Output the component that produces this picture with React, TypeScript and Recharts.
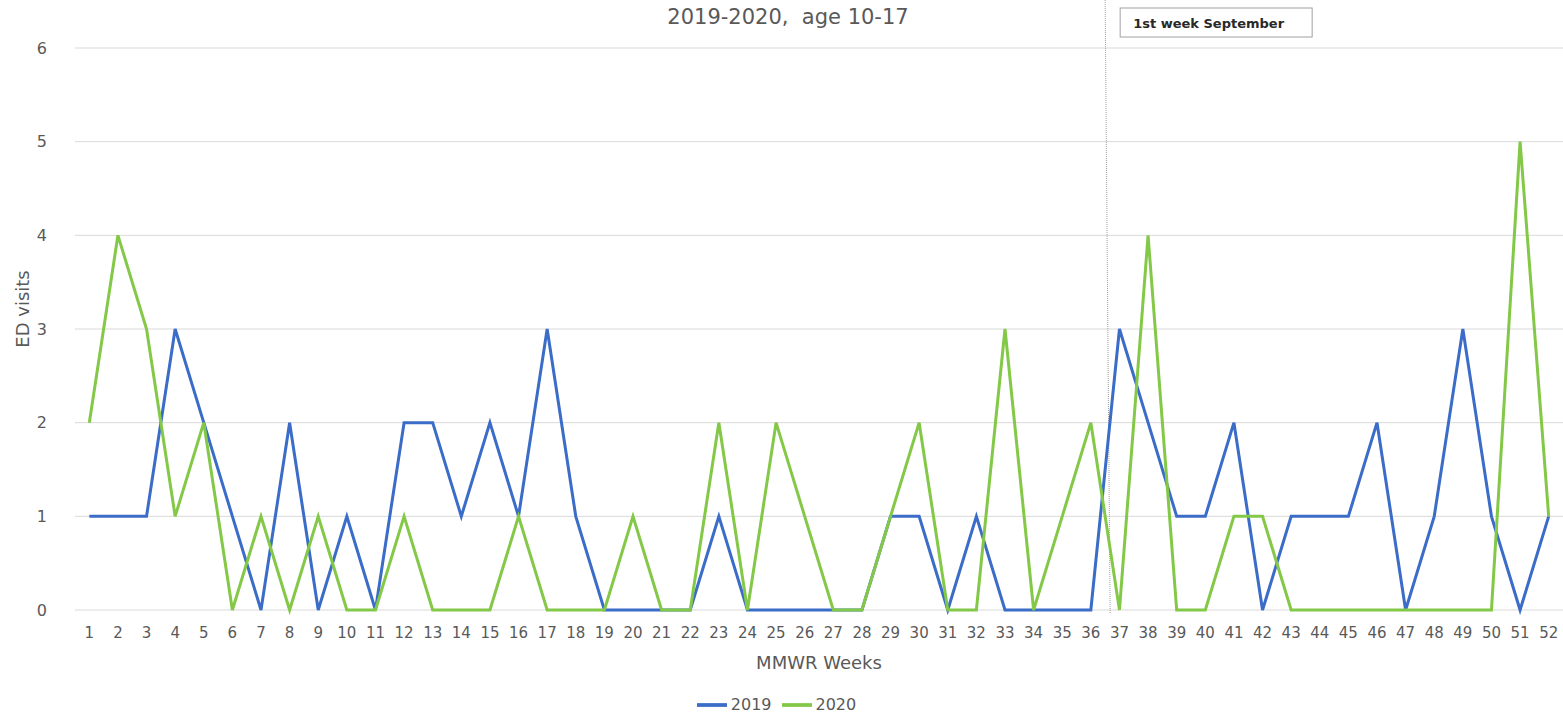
import { CartesianGrid, Legend, Line, LineChart, ReferenceLine, XAxis, YAxis } from 'recharts';

const weeks = Array.from({ length: 52 }, (_, i) => i + 1);

const visits2019 = [
  1, 1, 1, 3, 2, 1, 0, 2, 0, 1, 0, 2, 2, 1, 2, 1, 3, 1, 0, 0, 0, 0, 1, 0, 0, 0,
  0, 0, 1, 1, 0, 1, 0, 0, 0, 0, 3, 2, 1, 1, 2, 0, 1, 1, 1, 2, 0, 1, 3, 1, 0, 1,
];

const visits2020 = [
  2, 4, 3, 1, 2, 0, 1, 0, 1, 0, 0, 1, 0, 0, 0, 1, 0, 0, 0, 1, 0, 0, 2, 0, 2, 1,
  0, 0, 1, 2, 0, 0, 3, 0, 1, 2, 0, 4, 0, 0, 1, 1, 0, 0, 0, 0, 0, 0, 0, 0, 5, 1,
];

const yTicks = [0, 1, 2, 3, 4, 5, 6];
const septemberMarker = 36.5;
const septemberText = '1st week September';

const data = weeks.map((week, i) => ({ week, y2019: visits2019[i], y2020: visits2020[i] }));

const FONT = '"DejaVu Sans", Verdana, sans-serif';
const GREY_TEXT = 'rgb(89 89 89)';

// dotted marker line that runs up past the plot top, with its boxed note
function MarkerShape(props: any) {
  const { x1, y1, x2, y2 } = props;
  const top = Math.min(y1, y2);
  const bottom = Math.max(y1, y2);
  const x = Math.min(x1, x2);
  return (
    <g>
      <line x1={x} y1={top - 48} x2={x + 5} y2={bottom + 4} stroke="rgb(160 160 160)" strokeWidth={1} strokeDasharray="1 1" />
      <rect x={x + 15} y={top - 40} width={192} height={29} fill="#fff" stroke="rgb(160 160 160)" strokeWidth={1} />
      <text x={x + 28} y={top - 20} fontFamily={FONT} fontSize={13} fontWeight={600} fill="rgb(40 40 40)">
        {septemberText}
      </text>
    </g>
  );
}

function YLabel(props: any) {
  const { viewBox } = props;
  const cx = viewBox.x + 22;
  const cy = viewBox.y + viewBox.height / 2 - 20;
  return (
    <text
      x={cx}
      y={cy}
      transform={`rotate(-90 ${cx} ${cy})`}
      textAnchor="middle"
      dominantBaseline="central"
      fontSize={18}
      fontFamily={FONT}
      fill={GREY_TEXT}
    >
      ED visits
    </text>
  );
}

export default function App() {
  return (
    <div style={{ position: 'absolute', left: 0, top: 0, width: 1563, height: 716, background: '#fff', fontFamily: FONT }}>
      <div
        style={{
          position: 'absolute',
          left: 0,
          top: 5,
          width: 1576,
          textAlign: 'center',
          fontSize: 21,
          color: GREY_TEXT,
          whiteSpace: 'pre',
        }}
      >
        2019-2020,  age 10-17
      </div>
      <LineChart width={1563} height={716} data={data} margin={{ top: 48, right: 0, bottom: 0, left: 0 }}>
        <CartesianGrid stroke="rgb(217 217 217)" vertical={false} />
        <XAxis
          dataKey="week"
          type="number"
          domain={[0.5, 52.5]}
          ticks={weeks}
          interval={0}
          axisLine={false}
          tickLine={false}
          height={76}
          tick={{ fontSize: 15, fill: GREY_TEXT, fontFamily: FONT }}
          tickMargin={11}
          label={{ value: 'MMWR Weeks', position: 'insideBottom', offset: 17, fontSize: 18, fill: GREY_TEXT, fontFamily: FONT }}
        />
        <YAxis
          domain={[0, 6]}
          ticks={yTicks}
          axisLine={false}
          tickLine={false}
          width={75}
          tick={{ fontSize: 16, fill: GREY_TEXT, fontFamily: FONT }}
          tickMargin={22}
          label={<YLabel />}
        />
        <ReferenceLine x={septemberMarker} ifOverflow="visible" shape={MarkerShape} />
        <Legend
          verticalAlign="bottom"
          iconType="plainline"
          iconSize={30}
          wrapperStyle={{ fontSize: 16, fontFamily: FONT, paddingTop: 0, bottom: -4 }}
          formatter={(value) => <span style={{ color: GREY_TEXT }}>{value}</span>}
        />
        <Line
          type="linear"
          dataKey="y2019"
          name="2019"
          stroke="rgb(58 108 200)"
          strokeWidth={3}
          dot={false}
          isAnimationActive={false}
        />
        <Line
          type="linear"
          dataKey="y2020"
          name="2020"
          stroke="rgb(132 200 72)"
          strokeWidth={3}
          dot={false}
          isAnimationActive={false}
        />
      </LineChart>
    </div>
  );
}
